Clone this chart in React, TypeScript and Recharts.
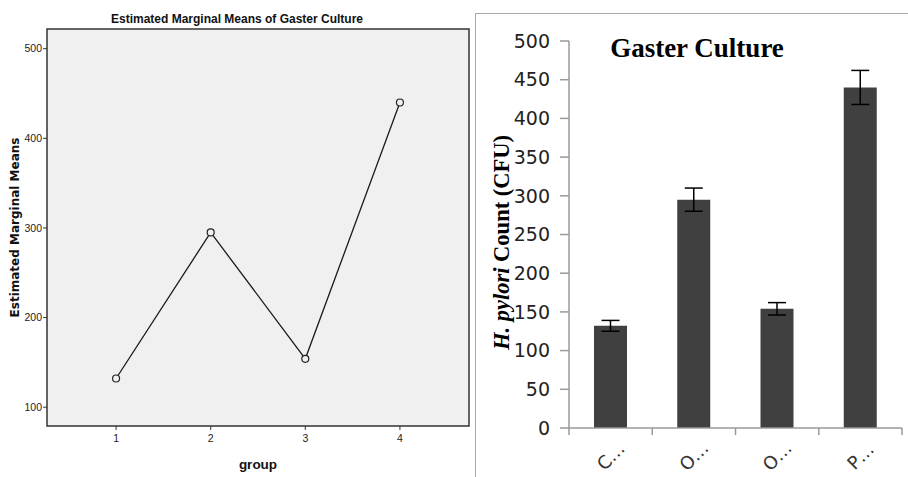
import React from 'react';
import { LineChart, Line, XAxis, YAxis, ReferenceArea, BarChart, Bar, ErrorBar } from 'recharts';

// ----- Left panel: Estimated Marginal Means (SPSS profile plot) -----
const groups = [1, 2, 3, 4];
const marginalMeans = [132, 295, 154, 440];
const lineYTicks = [100, 200, 300, 400, 500];
const lineXDomain = [0.27, 4.73];
const lineYDomain = [79, 522];

// ----- Right panel: Gaster Culture bar chart -----
const barCategories = ['C…', 'O…', 'O…', 'P…'];
const barCounts = [132, 295, 154, 440];
const barErrors = [7, 15, 8, 22];
const barYTicks = [0, 50, 100, 150, 200, 250, 300, 350, 400, 450, 500];

const lineData = groups.map((g, i) => ({ group: g, mean: marginalMeans[i] }));
const barData = barCategories.map((c, i) => ({ name: c, count: barCounts[i], err: barErrors[i] }));

const NARROW = "'Liberation Sans Narrow', 'Arial Narrow', 'Liberation Sans', sans-serif";
const SERIF = "'Liberation Serif', 'Times New Roman', serif";

const LeftYLabel = (props: any) => {
  const vb = props.viewBox;
  const cx = vb.x + 8;
  const cy = vb.y + vb.height / 2;
  return (
    <text x={cx} y={cy} transform={`rotate(-90, ${cx}, ${cy})`} textAnchor="middle" dominantBaseline="central"
      fontFamily="'DejaVu Sans', sans-serif" fontWeight="bold" fontSize={12} fill="#111">
      Estimated Marginal Means
    </text>
  );
};

const RightYLabel = (props: any) => {
  const vb = props.viewBox;
  const cx = vb.x - 9;
  const cy = vb.y + vb.height / 2 + 8;
  return (
    <text x={cx} y={cy} transform={`rotate(-90, ${cx}, ${cy})`} textAnchor="middle" dominantBaseline="central"
      fontFamily={SERIF} fontWeight="bold" fontSize={22.5} fill="#000">
      <tspan fontStyle="italic">H. pylori</tspan>
      <tspan> Count (CFU)</tspan>
    </text>
  );
};

const BarTick = (props: any) => {
  const { x, y, payload, width, visibleTicksCount, index } = props;
  const band = width / visibleTicksCount;
  const left = x - band / 2;
  const right = x + band / 2;
  const ty = y + 28;
  return (
    <g>
      <line x1={left} y1={y} x2={left} y2={y + 7} stroke="#9a9a9a" strokeWidth={1.5} />
      {index === visibleTicksCount - 1 && (
        <line x1={right} y1={y} x2={right} y2={y + 7} stroke="#9a9a9a" strokeWidth={1.5} />
      )}
      <text x={x} y={ty} transform={`rotate(-45, ${x}, ${ty})`} textAnchor="middle" dominantBaseline="central"
        fontFamily="'DejaVu Sans', sans-serif" fontSize={18} fill="#333">
        {payload.value}
      </text>
    </g>
  );
};

export default function App() {
  return (
    <div style={{ position: 'absolute', left: 0, top: 0, width: 908, height: 477, background: '#fff', overflow: 'hidden' }}>
      <div style={{ position: 'absolute', left: 0, top: 0 }}>
        <LineChart width={475} height={477} data={lineData} margin={{ top: 29, right: 6, bottom: 0, left: 7 }}>
          <text x={237} y={23} textAnchor="middle" fontFamily={NARROW} fontWeight="bold" fontSize={12} fill="#111">
            Estimated Marginal Means of Gaster Culture
          </text>
          <XAxis dataKey="group" type="number" domain={lineXDomain} ticks={groups} allowDataOverflow
            height={51} axisLine={false} tickSize={4} tickMargin={5}
            tickLine={{ stroke: '#333', strokeWidth: 1 }}
            tick={{ fontFamily: NARROW, fontSize: 10.5, fill: '#222' }}
            label={{ value: 'group', position: 'insideBottom', offset: 8, fontFamily: NARROW, fontWeight: 'bold', fontSize: 13.5, fill: '#111' }} />
          <YAxis type="number" domain={lineYDomain} ticks={lineYTicks} allowDataOverflow
            width={40} axisLine={false} tickSize={4} tickMargin={1}
            tickLine={{ stroke: '#333', strokeWidth: 1 }}
            tick={{ fontFamily: NARROW, fontSize: 10.5, fill: '#222' }}
            label={{ content: LeftYLabel }} />
          <ReferenceArea x1={lineXDomain[0]} x2={lineXDomain[1]} y1={lineYDomain[0]} y2={lineYDomain[1]}
            fill="#f0f0f0" fillOpacity={1} stroke="#333" strokeWidth={1.5} ifOverflow="visible" />
          <Line dataKey="mean" stroke="#1a1a1a" strokeWidth={1.3} isAnimationActive={false}
            dot={{ r: 3.5, fill: '#f0f0f0', stroke: '#222', strokeWidth: 1.2 }} />
        </LineChart>
      </div>
      <div style={{ position: 'absolute', left: 475, top: 13, width: 440, height: 480, borderLeft: '1.5px solid #a8a8a8', borderTop: '1.5px solid #a8a8a8', boxSizing: 'border-box' }} />
      <div style={{ position: 'absolute', left: 470, top: 0 }}>
        <BarChart width={438} height={477} data={barData} margin={{ top: 41, right: 6, bottom: 0, left: 40 }}>
          <text x={227} y={57} textAnchor="middle" fontFamily={SERIF} fontWeight="bold" fontSize={27} fill="#000">
            Gaster Culture
          </text>
          <XAxis dataKey="name" height={49} axisLine={{ stroke: '#9a9a9a', strokeWidth: 1.5 }}
            tickLine={false} tickSize={0} tickMargin={0} interval={0} tick={<BarTick />} />
          <YAxis type="number" domain={[0, 500]} ticks={barYTicks} width={59}
            axisLine={{ stroke: '#9a9a9a', strokeWidth: 1.5 }} tickSize={9} tickMargin={10}
            tickLine={{ stroke: '#9a9a9a', strokeWidth: 1.5 }}
            tick={{ fontFamily: "'DejaVu Sans', sans-serif", fontSize: 19, fill: '#222' }}
            label={{ content: RightYLabel }} />
          <Bar dataKey="count" fill="#404040" barSize={33} isAnimationActive={false}>
            <ErrorBar dataKey="err" width={9} stroke="#000" strokeWidth={1.5} direction="y" />
          </Bar>
        </BarChart>
      </div>
    </div>
  );
}
